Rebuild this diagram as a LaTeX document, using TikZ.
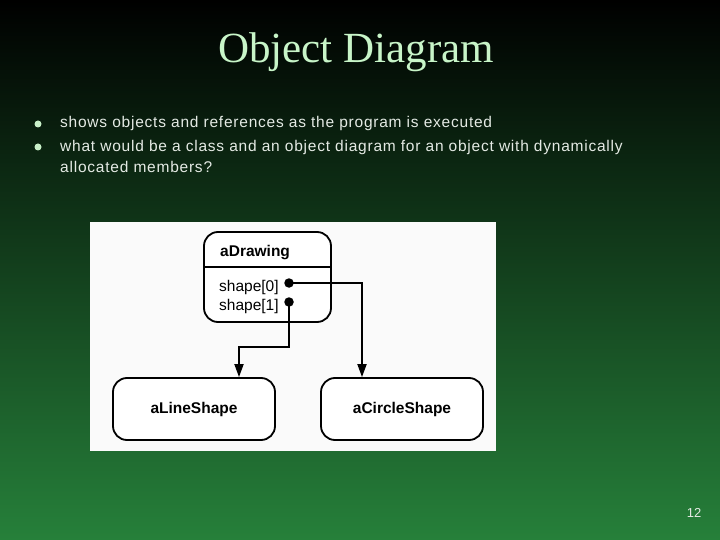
\documentclass[tikz,border=0pt]{standalone}
\usepackage{fontspec}
\setmainfont{Liberation Sans}
\newfontfamily\titlefont{Liberation Serif}
\newfontfamily\bulletfont[LetterSpace=5]{Liberation Sans}
\usetikzlibrary{arrows.meta}
\definecolor{bgbot}{RGB}{38,128,58}
\definecolor{titlecol}{RGB}{200,245,200}
\definecolor{textcol}{RGB}{228,234,228}
\definecolor{bulletcol}{RGB}{200,240,200}
\definecolor{paper}{RGB}{250,250,250}
\begin{document}
\begin{tikzpicture}[x=1pt,y=-1pt,
  objbox/.style={draw=black, line width=1.8pt, rounded corners=14pt, fill=white, inner sep=0},
  lbl/.style={font=\fontsize{15.5}{18}\selectfont\bfseries, inner sep=0},
  fld/.style={font=\fontsize{15.5}{18}\selectfont, inner sep=0, anchor=base west},
  refdot/.style={circle, fill=black, inner sep=0, minimum size=9.5pt},
  conn/.style={draw=black, line width=1.8pt, -{Triangle[length=13pt,width=9pt]}},
  bullet/.style={circle, fill=bulletcol, inner sep=0, minimum size=7pt},
  btext/.style={text=textcol, font=\bulletfont\fontsize{15.5}{21}\selectfont, inner sep=0, anchor=base west}]
\useasboundingbox (0,0) rectangle (720,540);
\shade[top color=black, bottom color=bgbot] (0,0) rectangle (720,540);
\node[anchor=base, text=titlecol, font=\titlefont\fontsize{43}{50}\selectfont, inner sep=0] (title) at (356,63) {Object Diagram};
\node[bullet] (b1) at (38,124) {};
\node[bullet] (b2) at (38,147) {};
\node[btext] (l1) at (60,128) {shows objects and references as the program is executed};
\node[btext] (l2) at (60,152) {what would be a class and an object diagram for an object with dynamically};
\node[btext] (l3) at (60,173) {allocated members?};
\fill[paper] (90,222) rectangle (496,451);
\node[objbox, minimum width=127pt, minimum height=90pt] (drw) at (267.5,277) {};
\draw[line width=1.8pt] (204,267) -- (331,267);
\node[lbl, anchor=base west] (dname) at (220,256) {aDrawing};
\node[fld] (f0) at (219,291) {shape[0]};
\node[fld] (f1) at (219,310) {shape[1]};
\node[refdot] (d0) at (289,283) {};
\node[refdot] (d1) at (289,302) {};
\node[objbox, minimum width=162pt, minimum height=62pt, font=\fontsize{15.5}{18}\selectfont\bfseries] (line) at (194,409) {aLineShape};
\node[objbox, minimum width=162pt, minimum height=62pt, font=\fontsize{15.5}{18}\selectfont\bfseries] (circ) at (402,409) {aCircleShape};
\draw[conn] (d0.center) -| ([xshift=-40pt]circ.north);
\draw[conn] (d1.center) -- ++(0,45) -| ([xshift=45pt]line.north);
\node[text=textcol, font=\fontsize{13}{15}\selectfont, inner sep=0] (pg) at (694,513) {12};
\end{tikzpicture}
\end{document}
